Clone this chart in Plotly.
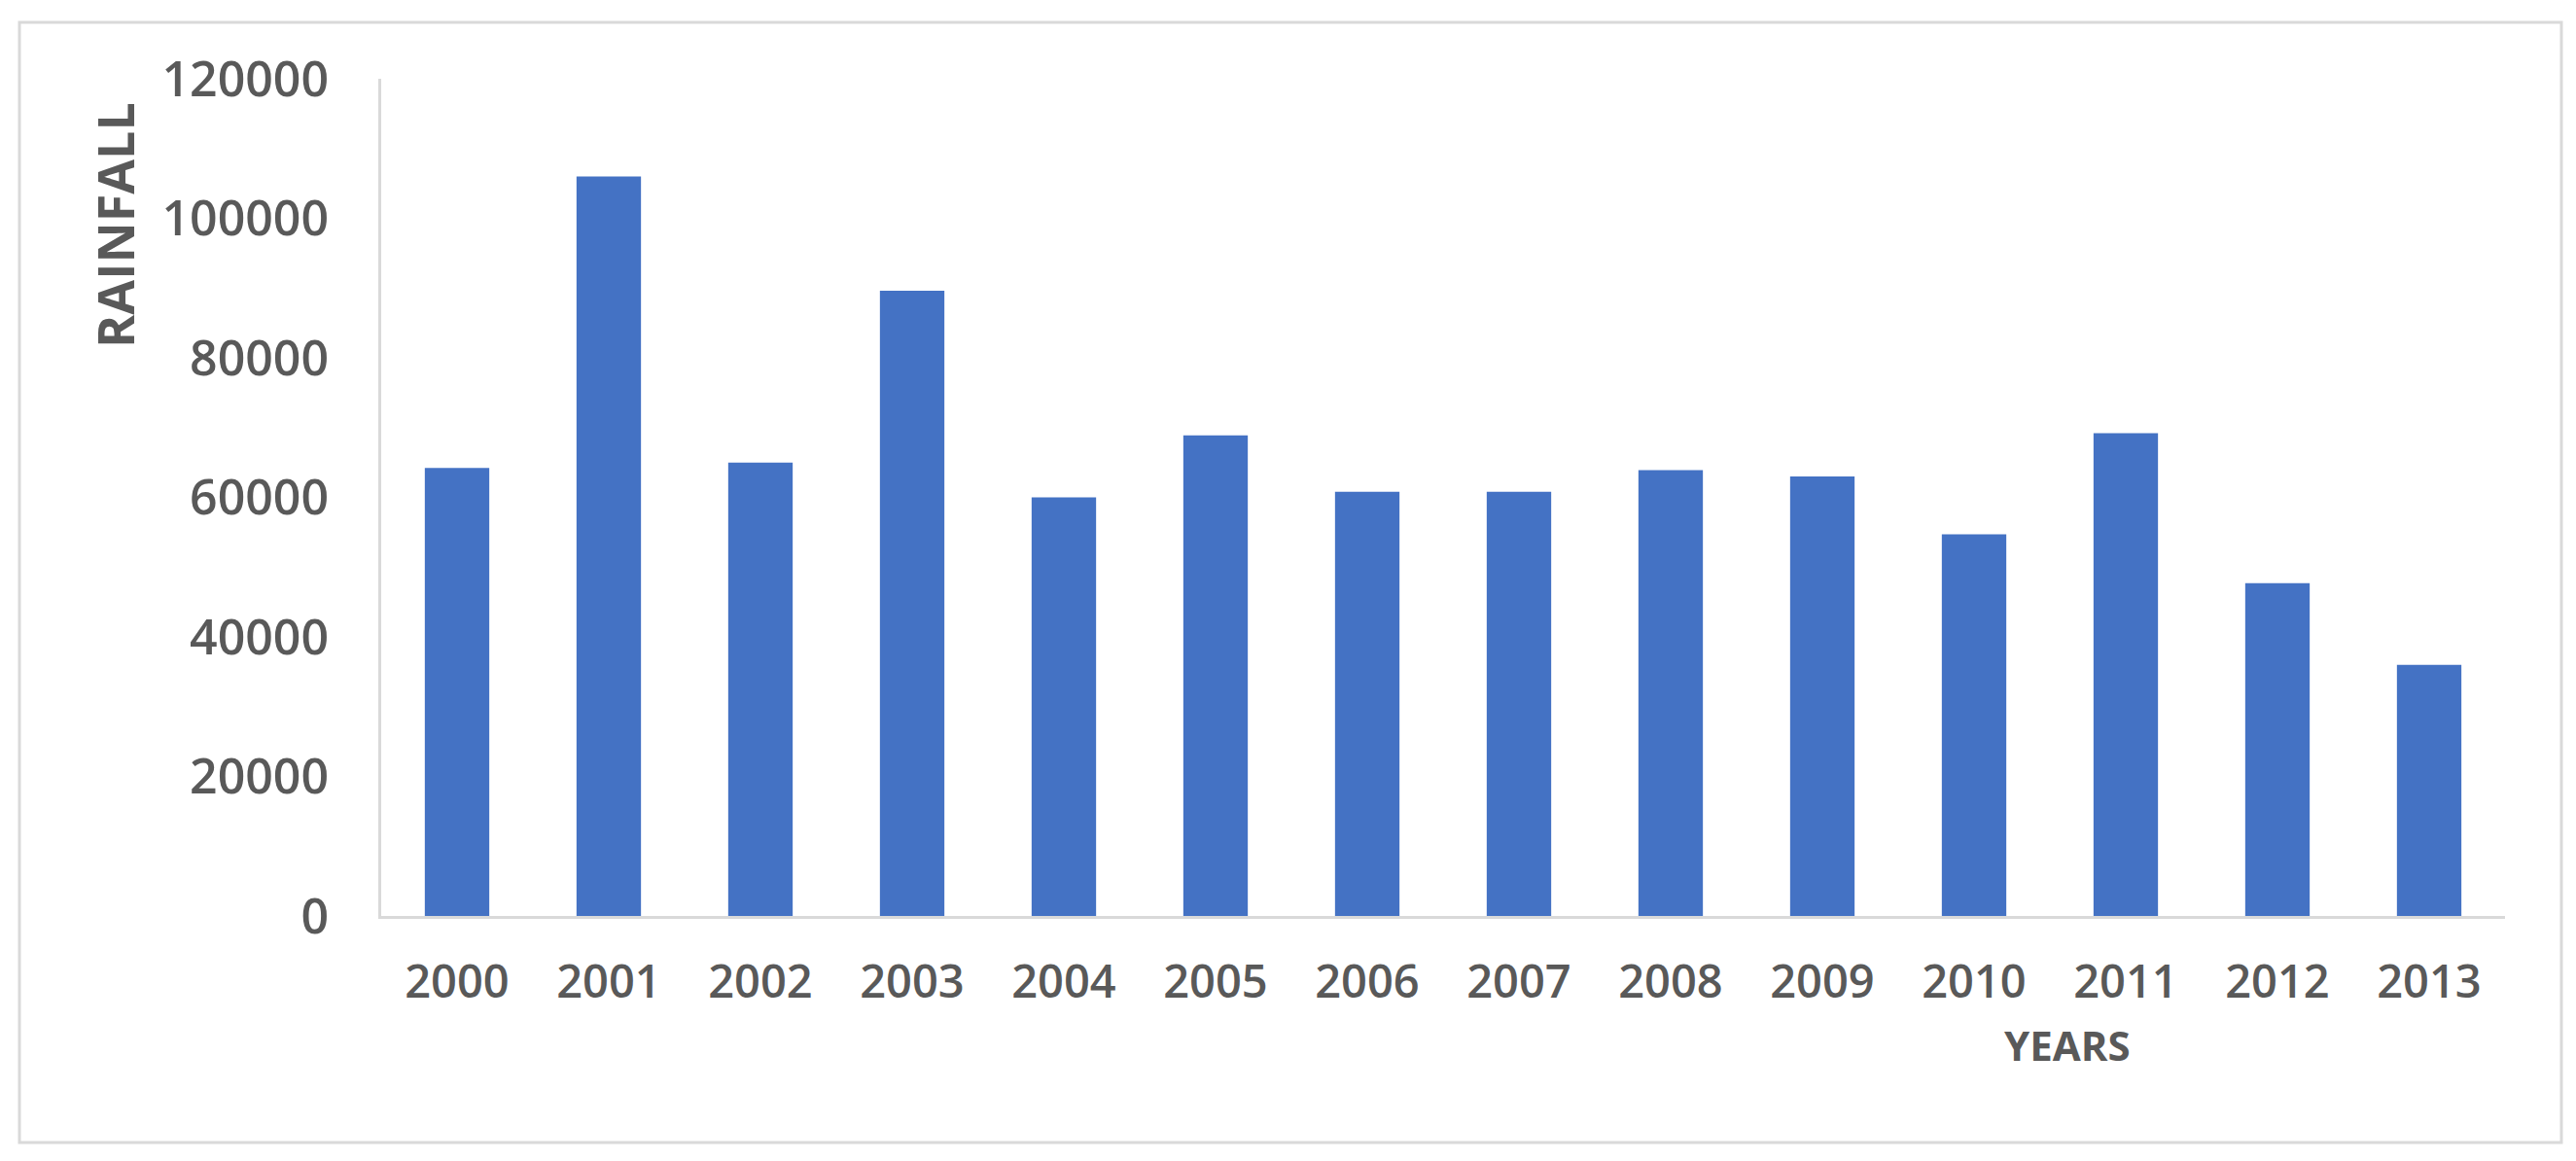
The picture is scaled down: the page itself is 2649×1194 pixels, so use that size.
import plotly.graph_objects as go

# data
years = ['2000', '2001', '2002', '2003', '2004', '2005', '2006',
         '2007', '2008', '2009', '2010', '2011', '2012', '2013']
rainfall = [64200, 106000, 65000, 89600, 60000, 68900, 60800,
            60800, 63900, 63000, 54700, 69200, 47700, 36000]
y_ticks = [0, 20000, 40000, 60000, 80000, 100000, 120000]

W, H = 2649, 1194
L, R, T, B = 384, 81, 73, 260
plot_w = W - L - R
plot_h = H - T - B


def px_x(x):
    return (x - L) / plot_w


def px_y(y):
    return (H - B - y) / plot_h


grey = '#595959'
font = 'Open Sans'

fig = go.Figure()
fig.add_trace(go.Bar(
    x=years, y=rainfall,
    marker=dict(color='#4472C4', line=dict(width=0)),
))

fig.update_layout(
    width=W, height=H,
    margin=dict(l=L, r=R, t=T, b=B),
    paper_bgcolor='white',
    plot_bgcolor='white',
    bargap=0.575,
    showlegend=False,
    font=dict(family=font, color=grey),
    xaxis=dict(
        showgrid=False, zeroline=False,
        showline=True, linecolor='#d9d9d9', linewidth=3,
        ticks='', ticklabelstandoff=25,
        tickfont=dict(size=47, family=font, color=grey, weight=600),
    ),
    yaxis=dict(
        range=[0, 120000], tickvals=y_ticks, tickformat='d',
        showgrid=False, zeroline=False,
        showline=True, linecolor='#d9d9d9', linewidth=3,
        ticks='', ticklabelstandoff=41,
        tickfont=dict(size=50, family=font, color=grey, weight=600),
    ),
    shapes=[dict(
        type='rect', xref='paper', yref='paper',
        x0=px_x(12), x1=px_x(2626), y0=px_y(1167), y1=px_y(15),
        line=dict(color='#d9d9d9', width=3), fillcolor='rgba(0,0,0,0)',
        layer='below',
    )],
    annotations=[
        dict(text='<b>RAINFALL</b>', xref='paper', yref='paper',
             x=px_x(109), y=px_y(224), textangle=-90, showarrow=False,
             xanchor='center', yanchor='middle',
             font=dict(size=52, family=font, color=grey)),
        dict(text='<b>YEARS</b>', xref='paper', yref='paper',
             x=px_x(2118), y=px_y(1066), showarrow=False,
             xanchor='center', yanchor='middle',
             font=dict(size=42, family=font, color=grey)),
    ],
)

fig.write_html('out.html')
